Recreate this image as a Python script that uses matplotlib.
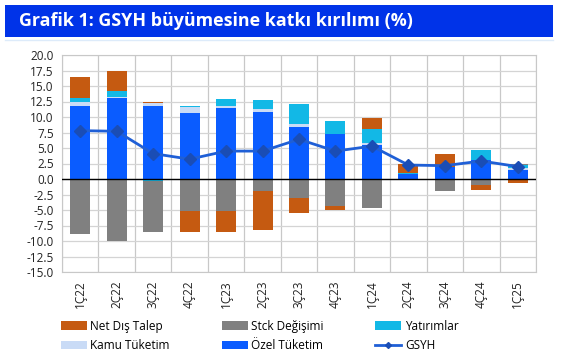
import matplotlib
matplotlib.use("Agg")
import matplotlib.pyplot as plt
import numpy as np
from matplotlib.patches import Rectangle, Patch
from matplotlib.lines import Line2D

categories = ["1Ç22", "2Ç22", "3Ç22", "4Ç22", "1Ç23", "2Ç23", "3Ç23", "4Ç23",
              "1Ç24", "2Ç24", "3Ç24", "4Ç24", "1Ç25"]
ozel = [11.8, 13.1, 11.8, 10.7, 11.5, 10.85, 8.45, 7.25, 5.5, 0.8, 2.0, 3.05, 1.5]
kamu = [0.7, 0.2, 0.4, 0.85, 0.3, 0.45, 0.45, 0.0, 0.35, 0.0, 0.0, 0.0, 0.3]
yatirim = [0.6, 0.9, -0.4, 0.25, 1.15, 1.4, 3.2, 2.1, 2.2, 0.2, 0.0, 1.6, 0.5]
stok = [-8.8, -9.95, -8.1, -5.1, -5.1, -1.9, -3.0, -4.3, -4.6, -0.2, -1.9, -0.95, 0.2]
net = [3.4, 3.2, 0.3, -3.4, -3.4, -6.3, -2.5, -0.65, 1.8, 1.4, 2.0, -0.8, -0.6]
gsyh = [7.8, 7.7, 4.1, 3.2, 4.5, 4.5, 6.4, 4.5, 5.3, 2.25, 2.15, 2.9, 2.0]

series = [
    ("Özel Tüketim", ozel, "#0A5CFF"),
    ("Kamu Tüketim", kamu, "#C9DBF6"),
    ("Yatırımlar", yatirim, "#12B8E6"),
    ("Stck Değişimi", stok, "#808080"),
    ("Net Dış Talep", net, "#C55A11"),
]

plt.rcParams['font.family'] = ['Open Sans', 'DejaVu Sans']

fig = plt.figure(figsize=(5.63, 3.64), dpi=100)
fig.patch.set_facecolor("white")

# Title banner
fig.patches.append(Rectangle((5/563, 1-37/364), 548/563, 32/364, transform=fig.transFigure,
                             facecolor="#0033E8", edgecolor="none", zorder=0))
fig.lines.append(Line2D([5/563, 553/563], [1-40/364, 1-40/364], transform=fig.transFigure,
                        color="#DDEBFA", lw=1))
fig.text(19/563, 1-21/364, "Grafik 1: GSYH büyümesine katkı kırılımı (%)", color="white",
         fontsize=12.9, fontweight="bold", va="center", ha="left")

ax = fig.add_axes([62/563, 1-272/364, 474/563, 217/364])
x = np.arange(len(categories))
width = 0.55
pos_base = np.zeros(len(categories))
neg_base = np.zeros(len(categories))
handles = {}
for name, vals, col in series:
    v = np.array(vals, dtype=float)
    bottoms = np.where(v >= 0, pos_base, neg_base)
    ax.bar(x, v, width, bottom=bottoms, color=col, zorder=2, label=name)
    handles[name] = Patch(facecolor=col)
    pos_base = pos_base + np.where(v >= 0, v, 0)
    neg_base = neg_base + np.where(v < 0, v, 0)

ax.plot(x, gsyh, color="#1F5FD6", lw=2, marker="D", markersize=6,
        markerfacecolor="#1A4DB5", markeredgecolor="#1A4DB5", zorder=4)
ax.axhline(0, color="black", lw=1, zorder=3)

ax.set_xlim(-0.5, len(categories) - 0.5)
ax.set_ylim(-15, 20)
yt = np.arange(-15, 20.1, 2.5)
ax.set_yticks(yt)
ax.set_yticklabels([f"{t:.1f}" for t in yt], fontsize=8.5)
ax.set_xticks(x)
ax.set_xticklabels(categories, rotation=90, fontsize=8.5)
ax.set_xticks(np.arange(-0.5, len(categories), 1), minor=True)
ax.grid(True, which="minor", axis="x", color="#C8C8C8", lw=0.9, zorder=0)
ax.grid(True, which="major", axis="y", color="#D4D4D4", lw=0.9, zorder=0)
ax.tick_params(which="both", length=0, pad=6, colors="#222222")
for s in ax.spines.values():
    s.set_color("#C8C8C8")

order = [("Net Dış Talep", handles["Net Dış Talep"]),
         ("Kamu Tüketim", handles["Kamu Tüketim"]),
         ("Stck Değişimi", handles["Stck Değişimi"]),
         ("Özel Tüketim", handles["Özel Tüketim"]),
         ("Yatırımlar", handles["Yatırımlar"]),
         ("GSYH", Line2D([], [], color="#1F5FD6", lw=2, marker="D", markersize=3,
                         markerfacecolor="#1A4DB5", markeredgecolor="#1A4DB5"))]
fig.legend([h for _, h in order], [n for n, _ in order], ncol=3, loc="center left",
           bbox_to_anchor=(50/563, 1-336/364), frameon=False, fontsize=8.5,
           handlelength=2.2, handleheight=0.7, handletextpad=0.3, columnspacing=4.4,
           labelspacing=0.55)

fig.savefig("out.png", dpi=100, facecolor="white")
